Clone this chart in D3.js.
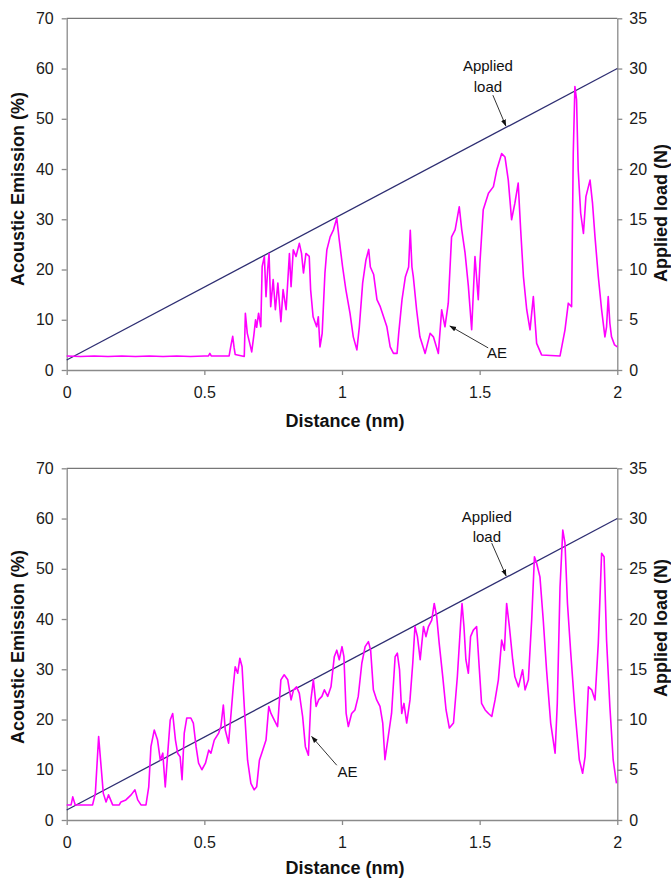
<!DOCTYPE html>
<html><head><meta charset="utf-8">
<script src="https://cdn.jsdelivr.net/npm/d3@7"></script>
<style>
html,body{margin:0;padding:0;background:#fff;}
text{font-family:"Liberation Sans",Arial,sans-serif;}
</style></head>
<body>
<svg id="chart" width="671" height="878"></svg>
<script>
// ---------- DATA ----------
const distanceTicks = [0, 0.5, 1, 1.5, 2];
const aeTicks = [0, 10, 20, 30, 40, 50, 60, 70];
const loadTicks = [0, 5, 10, 15, 20, 25, 30, 35];

const loadX = [0, 2];
const loadN = [1, 30];

const topX = [0,0.05,0.1,0.15,0.2,0.25,0.3,0.35,0.4,0.45,0.5,0.515,0.52,0.525,0.59,0.597,0.603,0.608,0.612,0.645,
0.649,0.656,0.664,0.672,0.68,0.686,0.69,0.697,0.705,0.71,0.718,0.724,0.73,0.735,0.741,0.75,0.758,0.767,0.778,0.786,
0.797,0.809,0.815,0.823,0.833,0.845,0.853,0.86,0.869,0.881,0.886,0.895,0.908,0.914,0.92,0.928,0.938,0.945,0.957,0.969,
0.981,0.99,1.002,1.014,1.029,1.041,1.054,1.063,1.075,1.087,1.097,1.103,1.115,1.127,1.139,1.151,1.163,1.175,1.187,1.2,
1.206,1.218,1.23,1.242,1.248,1.254,1.259,1.271,1.283,1.302,1.32,1.332,1.35,1.362,1.374,1.386,1.398,1.411,1.426,1.435,
1.447,1.459,1.471,1.483,1.495,1.501,1.513,1.532,1.55,1.562,1.58,1.592,1.604,1.616,1.628,1.64,1.649,1.659,1.671,1.683,
1.695,1.707,1.725,1.792,1.81,1.822,1.834,1.84,1.846,1.852,1.858,1.867,1.877,1.886,1.901,1.91,1.919,1.931,1.943,1.955,
1.961,1.967,1.973,1.979,1.99,2.0];
const topAE = [2.8,2.7,2.8,2.7,2.8,2.7,2.8,2.7,2.8,2.7,2.8,2.8,3.3,2.8,2.8,5.0,6.7,4.5,3.1,2.7,
11.3,7.3,5.5,3.6,7,10,8.5,11.3,8.6,20.6,22.6,14.6,20,23.2,12.6,18,12,17.3,9.6,16,
12,23.2,16.6,23.9,22.6,25.2,23.2,19.3,23.2,22.6,16,10.6,8.6,10.6,4.6,7.3,19.3,23.9,26.5,27.9,
30.2,25.9,20.6,16,11.3,6.6,4.0,8.6,17.3,21.9,24,20.5,19,14,12.6,10.6,8.6,4.6,3.3,3.3,
7.3,14,18.5,20.5,27.8,20.5,18.6,12,6.6,3.3,7.3,6.6,3.3,12,8.6,13.3,26.5,27.9,32.5,27.9,
23.3,16.7,8,22.6,14,21.3,31.9,35.2,36.5,39.8,43.1,42.4,37.8,29.9,33.2,37.2,27.9,18.6,12,8,
14.6,5.3,3.0,2.8,8,13.3,12.6,43.1,56.4,53.8,39.8,31.2,27.2,34.5,37.8,33.2,26.5,18.6,12,6.6,
8.6,14.6,9.3,6.6,5.0,4.6];

const bottomX = [0,0.016,0.022,0.031,0.094,0.104,0.116,0.125,0.133,0.143,0.152,0.167,0.191,0.197,0.215,0.234,0.248,0.258,0.27,0.288,
0.298,0.306,0.318,0.33,0.34,0.349,0.358,0.367,0.376,0.385,0.395,0.403,0.412,0.419,0.427,0.436,0.451,0.46,0.47,0.479,
0.491,0.504,0.516,0.524,0.536,0.552,0.56,0.569,0.576,0.588,0.597,0.605,0.612,0.621,0.629,0.637,0.645,0.657,0.669,0.681,
0.69,0.7,0.712,0.724,0.734,0.742,0.754,0.766,0.778,0.79,0.803,0.815,0.824,0.835,0.845,0.857,0.867,0.878,0.887,0.896,
0.906,0.915,0.927,0.936,0.948,0.96,0.972,0.981,0.99,1.0,1.007,1.015,1.023,1.035,1.047,1.059,1.072,1.084,1.096,1.104,
1.114,1.126,1.138,1.148,1.156,1.168,1.18,1.193,1.201,1.209,1.217,1.225,1.235,1.247,1.257,1.265,1.274,1.284,1.296,1.305,
1.314,1.326,1.335,1.344,1.353,1.366,1.378,1.39,1.405,1.419,1.431,1.436,1.443,1.45,1.459,1.467,1.477,1.489,1.499,1.507,
1.52,1.532,1.544,1.556,1.568,1.58,1.59,1.598,1.608,1.62,1.628,1.641,1.656,1.665,1.677,1.689,1.699,1.707,1.719,1.731,
1.743,1.758,1.774,1.782,1.792,1.802,1.81,1.819,1.831,1.846,1.862,1.874,1.883,1.895,1.907,1.919,1.931,1.943,1.952,1.961,
1.973,1.985,1.997];
const bottomAE = [3.0,3.0,4.6,3.0,3.0,5.3,16.6,10.6,5.3,3.6,5.0,3.0,3.0,3.6,4.0,5.0,6.0,4.0,3.0,3.0,
6.6,14.6,17.9,15.9,11.9,13.3,6.6,13.3,19.9,21.2,15.9,13.3,12.6,8.0,17.3,20.3,20.3,19.3,14.6,11.3,
10.0,11.3,13.9,13.3,15.9,17.3,18.6,22.9,17.9,15.3,21.2,26.5,30.5,29.2,32.2,30.5,22.6,11.9,7.3,6.0,
6.6,11.9,13.9,15.9,22.6,21.2,19.9,18.6,27.9,28.9,27.9,23.9,25.9,26.5,25.2,20.6,14.6,12.9,23.9,27.9,
22.6,23.9,24.6,25.9,24.6,26.5,32.5,33.8,31.9,34.5,32.5,21.2,18.6,21.2,21.9,24.6,31.2,34.5,35.5,33.8,
25.9,23.9,22.6,19.3,12.0,16.6,21.2,32.5,33.2,29.9,21.2,23.2,19.3,23.9,31.2,38.5,36.5,31.9,38.5,36.5,
38.5,39.8,43.1,40.5,35.2,28.5,21.9,18.3,19.3,28.5,39.2,43.1,38.5,31.9,29.2,36.5,37.8,38.5,29.9,23.2,
21.9,21.2,20.6,23.9,27.9,35.8,33.8,43.1,38.5,31.9,28.5,26.5,29.9,25.9,27.9,39.8,52.4,51.1,48.4,39.8,
29.9,19.3,13.3,23.2,46.4,57.7,55.1,43.1,33.2,21.9,12.0,9.3,12.6,26.5,25.9,23.9,35.2,53.1,52.4,35.8,
22.6,12.0,7.3];

// annotation anchors in data units (distance, AE %)
const topAnn = {loadText:[1.530,60.6],loadText2:[1.530,56.5],loadArrow:[[1.548,54.7],[1.595,48.6]],
                aeText:[1.563,3.4],aeArrow:[[1.531,4.4],[1.392,8.76]]};
const botAnn = {loadText:[1.526,60.5],loadText2:[1.526,56.5],loadArrow:[[1.544,55.1],[1.596,48.6]],
                aeText:[1.020,9.6],aeArrow:[[0.981,10.9],[0.890,16.6]]};

// ---------- DRAW ----------
const svg = d3.select("#chart");
const defs = svg.append("defs");
defs.append("marker").attr("id","ah").attr("viewBox","0 0 10 10").attr("refX",9).attr("refY",5)
  .attr("markerWidth",7).attr("markerHeight",7).attr("orient","auto")
  .append("path").attr("d","M0,1.5 L10,5 L0,8.5 Z").attr("fill","#111");

const L = 66.7, R = 617.3;
const x = d3.scaleLinear().domain([0,2]).range([L,R]);

function panel(yBottom, yTop, xs, ae, ann, opts){
  const y = d3.scaleLinear().domain([0,70]).range([yBottom,yTop]);
  const yR = d3.scaleLinear().domain([0,35]).range([yBottom,yTop]);
  const g = svg.append("g");

  // top border
  g.append("line").attr("x1",L).attr("x2",R).attr("y1",yTop).attr("y2",yTop)
    .attr("stroke","#555").attr("stroke-width",1);

  const styleAxis = sel => {
    sel.select(".domain").attr("stroke","#8a8a8a").attr("stroke-width",1.3);
    sel.selectAll(".tick line").attr("stroke","#8a8a8a").attr("stroke-width",1.3);
    sel.selectAll(".tick text").attr("fill","#1a1a1a").style("font-size","16px")
      .style("font-family","'Liberation Sans',Arial,sans-serif");
  };

  g.append("g").attr("transform",`translate(${L},0)`)
    .call(d3.axisLeft(y).tickValues(aeTicks).tickSize(5).tickPadding(8).tickSizeOuter(0))
    .call(styleAxis);
  g.append("g").attr("transform",`translate(${R},0)`)
    .call(d3.axisRight(yR).tickValues(loadTicks).tickSize(5).tickPadding(7).tickSizeOuter(0))
    .call(styleAxis);
  g.append("g").attr("transform",`translate(0,${yBottom})`)
    .call(d3.axisBottom(x).tickValues(distanceTicks).tickFormat(d3.format("")).tickSize(5).tickPadding(12).tickSizeOuter(0))
    .call(styleAxis);

  // applied load line
  const loadLine = d3.line().x((d,i)=>x(loadX[i])).y((d,i)=>yR(loadN[i]));
  g.append("path").datum(loadX).attr("d",loadLine).attr("fill","none")
    .attr("stroke","#2e2e72").attr("stroke-width",1.3);

  // AE line
  const aeLine = d3.line().x((d,i)=>x(xs[i])).y((d,i)=>y(ae[i]));
  g.append("path").datum(xs).attr("d",aeLine).attr("fill","none")
    .attr("stroke","#ff00ff").attr("stroke-width",1.6).attr("stroke-linejoin","round");

  // annotations
  const t = (p, s) => g.append("text").attr("x",x(p[0])).attr("y",y(p[1])).attr("text-anchor","middle")
      .attr("dominant-baseline","central").style("font-size","15px").attr("fill","#111").text(s);
  t(ann.loadText,"Applied");
  t(ann.loadText2,"load");
  t(ann.aeText,"AE");
  const arrow = a => g.append("line").attr("x1",x(a[0][0])).attr("y1",y(a[0][1]))
      .attr("x2",x(a[1][0])).attr("y2",y(a[1][1])).attr("stroke","#333").attr("stroke-width",1)
      .attr("marker-end","url(#ah)");
  arrow(ann.loadArrow);
  arrow(ann.aeArrow);

  // titles
  g.append("text").attr("transform",`translate(23.5,${opts.leftMid}) rotate(-90)`).attr("text-anchor","middle")
    .style("font-size","18px").style("font-weight","bold").attr("fill","#111").text("Acoustic Emission (%)");
  g.append("text").attr("transform",`translate(667,${opts.rightMid}) rotate(-90)`).attr("text-anchor","middle")
    .style("font-size","18px").style("font-weight","bold").attr("fill","#111").text("Applied load (N)");
  g.append("text").attr("x",(L+R)/2+3).attr("y",opts.xTitleY).attr("text-anchor","middle")
    .style("font-size","18px").style("font-weight","bold").attr("fill","#111").text("Distance (nm)");
}

panel(370, 18.3, topX, topAE, topAnn, {leftMid:189, rightMid:213, xTitleY:427});
panel(820, 468.3, bottomX, bottomAE, botAnn, {leftMid:647, rightMid:628, xTitleY:874});
</script>
</body></html>
